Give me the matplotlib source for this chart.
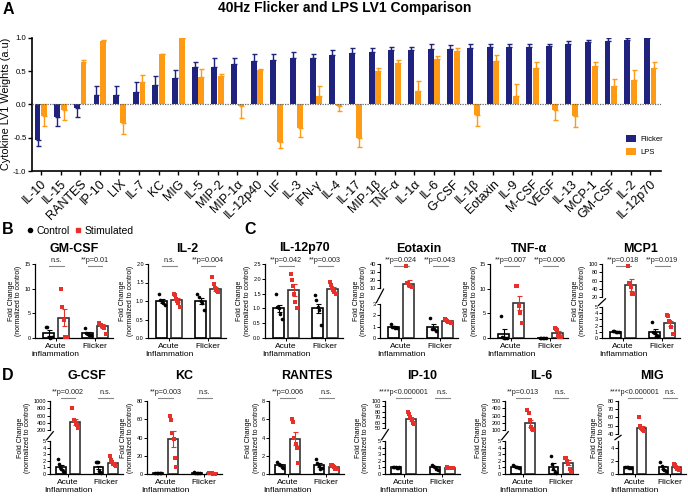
import numpy as np
import matplotlib
matplotlib.use("Agg")
import matplotlib.pyplot as plt
from matplotlib.lines import Line2D
from matplotlib.ticker import NullLocator
import matplotlib.transforms as mtransforms

plt.rcParams['font.family'] = ['Liberation Sans', 'DejaVu Sans']

# ---------------- Panel A data ----------------
cytokines = ["IL-10", "IL-15", "RANTES", "IP-10", "LIX", "IL-7", "KC", "MIG", "IL-5",
             "MIP-2", "MIP-1α", "IL-12p40", "LIF", "IL-3", "IFN-γ", "IL-4", "IL-17",
             "MIP-1β", "TNF-α", "IL-1α", "IL-6", "G-CSF", "IL-1β", "Eotaxin", "IL-9",
             "M-CSF", "VEGF", "IL-13", "MCP-1", "GM-CSF", "IL-2", "IL-12p70"]
flicker_w = [-0.53, -0.19, -0.05, 0.14, 0.14, 0.18, 0.29, 0.39, 0.56, 0.56, 0.61, 0.65,
             0.66, 0.70, 0.70, 0.74, 0.77, 0.78, 0.81, 0.81, 0.83, 0.83, 0.84, 0.86,
             0.86, 0.86, 0.87, 0.90, 0.93, 0.95, 0.97, 1.00]
flicker_err = [0.10, 0.13, 0.14, 0.14, 0.13, 0.15, 0.13, 0.13, 0.07, 0.14, 0.08, 0.10,
               0.10, 0.08, 0.06, 0.08, 0.07, 0.07, 0.05, 0.05, 0.07, 0.06, 0.07, 0.05,
               0.05, 0.05, 0.04, 0.05, 0.04, 0.04, 0.03, 0.01]
lps_w = [-0.18, -0.09, 0.63, 0.95, -0.28, 0.33, 0.75, 1.00, 0.41, 0.43, -0.03, 0.52,
         -0.57, -0.35, 0.12, -0.02, -0.51, 0.50, 0.62, 0.20, 0.68, 0.80, -0.16, 0.65,
         0.13, 0.55, -0.09, -0.17, 0.58, 0.27, 0.37, 0.54]
lps_err = [0.14, 0.14, 0.03, 0.02, 0.17, 0.11, 0.01, 0.00, 0.12, 0.03, 0.18, 0.01,
           0.08, 0.14, 0.16, 0.08, 0.13, 0.05, 0.05, 0.15, 0.04, 0.05, 0.17, 0.09,
           0.18, 0.09, 0.14, 0.17, 0.05, 0.11, 0.15, 0.09]

# ---------------- Panels B-D data ----------------
# order of groups: acute control, acute stimulated, flicker control, flicker stimulated
gmcsf_mean = [1.0, 4.1, 1.0, 2.4]
gmcsf_sem = [0.55, 1.7, 0.3, 0.35]
gmcsf_pts = [[2.2, 2.2, 0.2, 0.1, 0.3], [10.0, 6.2, 3.6, 0.2, 0.3],
             [2.0, 1.0, 0.8, 0.6, 0.7], [3.0, 2.6, 2.4, 2.2, 2.0, 0.8]]
gmcsf_p = ["n.s.", "**p=0.01"]

il2_mean = [1.0, 1.02, 1.0, 1.33]
il2_sem = [0.05, 0.05, 0.07, 0.05]
il2_pts = [[1.2, 1.02, 1.0, 0.95, 0.9], [1.2, 1.15, 1.05, 1.0, 0.95, 0.85],
           [1.2, 1.1, 1.0, 0.95, 0.75], [1.65, 1.45, 1.35, 1.3, 1.28, 1.25]]
il2_p = ["n.s.", "**p=0.004"]

il12_mean = [1.0, 1.62, 1.0, 1.65]
il12_sem = [0.12, 0.2, 0.15, 0.07]
il12_pts = [[1.5, 1.05, 1.0, 0.8, 0.65], [2.15, 1.95, 1.75, 1.5, 1.2, 1.0],
            [1.45, 1.3, 1.05, 0.95, 0.45], [1.9, 1.8, 1.7, 1.62, 1.55, 1.5]]
il12_p = ["**p=0.042", "**p=0.003"]

eot_mean = [1.0, 15.0, 1.0, 1.5]
eot_sem = [0.08, 4.5, 0.25, 0.07]
eot_pts = [[1.2, 1.0, 0.95, 0.9, 0.85], [37, 16, 14, 11.5, 10.5],
           [1.8, 0.8, 0.75, 0.6], [1.7, 1.6, 1.5, 1.45, 1.4, 1.35]]
eot_p = ["**p=0.024", "**p=0.043"]

tnf_mean = [0.9, 7.1, 0.05, 1.1]
tnf_sem = [0.9, 1.5, 0.03, 0.35]
tnf_pts = [[4.5, 0.2, 0.1, 0.0, 0.0], [10.5, 10.5, 6.5, 5.0, 3.0],
           [0.1, 0.05, 0.0, 0.0, 0.05], [2.0, 1.8, 1.6, 0.5, 0.3, 0.2]]
tnf_p = ["**p=0.007", "**p=0.006"]

mcp1_mean = [1.0, 50.0, 1.0, 2.4]
mcp1_sem = [0.05, 15.0, 0.4, 0.4]
mcp1_pts = [[1.1, 1.05, 1.0, 0.95, 0.9], [95, 55, 45, 27, 27],
            [2.5, 1.0, 0.8, 0.4, 0.3], [3.7, 3.6, 2.8, 2.5, 1.8, 0.6]]
mcp1_p = ["**p=0.018", "**p=0.019"]

gcsf_mean = [1.1, 420, 1.0, 1.6]
gcsf_sem = [0.3, 75, 0.28, 0.22]
gcsf_pts = [[2.3, 1.5, 1.0, 0.8, 0.5, 0.3], [820, 470, 450, 400, 330, 260],
            [1.8, 1.8, 1.8, 0.5, 0.3, 0.2], [2.7, 2.2, 1.8, 1.5, 1.3, 1.2]]
gcsf_p = ["**p=0.002", "n.s."]

kc_mean = [1.0, 38.5, 1.2, 0.6]
kc_sem = [0.1, 9.0, 0.2, 0.08]
kc_pts = [[1.2, 1.0, 1.0, 0.9, 0.8], [64, 59, 45, 38, 17, 8],
          [1.8, 1.5, 1.0, 0.9, 0.8], [0.8, 0.7, 0.6, 0.55, 0.5, 0.45]]
kc_p = ["**p=0.003", "n.s."]

rantes_mean = [1.0, 3.85, 1.0, 0.78]
rantes_sem = [0.1, 0.7, 0.25, 0.08]
rantes_pts = [[1.3, 1.1, 1.0, 0.8, 0.7], [6.0, 5.7, 4.0, 3.3, 2.8, 1.2],
              [1.6, 1.2, 0.9, 0.6, 0.7], [1.0, 0.95, 0.85, 0.75, 0.6, 0.55]]
rantes_p = ["**p=0.006", "n.s."]

ip10_mean = [1.0, 66.0, 1.0, 0.9]
ip10_sem = [0.04, 3.0, 0.15, 0.03]
ip10_pts = [[1.1, 1.05, 1.0, 0.95, 0.9, 1.0], [80, 76, 70, 66, 60, 58],
            [1.4, 1.2, 1.0, 0.8, 0.6], [1.0, 0.95, 0.9, 0.88, 0.85, 0.9]]
ip10_p = ["****p<0.000001", "n.s."]

il6_mean = [1.1, 195, 1.1, 1.7]
il6_sem = [0.08, 48, 0.5, 0.4]
il6_pts = [[1.3, 1.2, 1.1, 1.0, 0.9], [380, 330, 240, 150, 110, 105],
           [2.8, 1.5, 0.8, 0.3, 0.2], [2.5, 2.5, 2.0, 1.5, 0.8, 0.3]]
il6_p = ["**p=0.013", "n.s."]

mig_mean = [1.0, 47.0, 1.0, 1.0]
mig_sem = [0.05, 2.5, 0.25, 0.15]
mig_pts = [[1.05, 1.0, 1.0, 0.95, 0.9], [61, 50, 47, 46, 45, 44],
           [1.8, 1.2, 0.8, 0.6, 0.5], [1.5, 1.3, 1.0, 0.8, 0.7, 0.6]]
mig_p = ["****p<0.000001", "n.s."]

group_labels = ["Acute\nInflammation", "Flicker"]

# ---------------- styling ----------------
NAVY = '#1f237d'
ORANGE = '#ff9a14'
RED = '#e8302a'
W, H = 688, 496
fig = plt.figure(figsize=(6.88, 4.96), dpi=100)


def box(x0, y0, x1, y1):
    return [x0 / W, 1 - y1 / H, (x1 - x0) / W, (y1 - y0) / H]


# ---------------- Panel A ----------------
A_L, A_R = 32, 661
axA = fig.add_axes(box(A_L, 37.7, A_R, 171))
xA = np.arange(len(cytokines))
bw, off = 0.3, 0.17


def onesided(vals, errs):
    lo = [e if v < 0 else 0 for v, e in zip(vals, errs)]
    hi = [e if v >= 0 else 0 for v, e in zip(vals, errs)]
    return [lo, hi]


axA.bar(xA - off, flicker_w, bw, color=NAVY, label='Flicker', zorder=2,
        yerr=onesided(flicker_w, flicker_err),
        error_kw=dict(ecolor=NAVY, elinewidth=1.0, capsize=1.8, capthick=1.0))
axA.bar(xA + off, lps_w, bw, color=ORANGE, label='LPS', zorder=2,
        yerr=onesided(lps_w, lps_err),
        error_kw=dict(ecolor=ORANGE, elinewidth=1.0, capsize=1.8, capthick=1.0))
axA.axhline(0, color='#666666', lw=0.9, ls=(0, (1, 1)), zorder=3)
axA.set_xlim(-0.45, len(cytokines) - 0.45)
axA.set_ylim(-1, 1)
axA.set_yticks([-1, -0.5, 0, 0.5, 1.0])
axA.set_yticklabels(['-1.0', '-0.5', '0.0', '0.5', '1.0'])
axA.set_xticks(xA)
axA.set_xticklabels(cytokines, rotation=45, ha='right', rotation_mode='anchor', fontsize=9)
axA.tick_params(axis='y', labelsize=5.6, length=3, width=1, pad=1.0)
axA.tick_params(axis='x', length=3, width=1, pad=2)
for s in ['top', 'right']:
    axA.spines[s].set_visible(False)
for s in ['left', 'bottom']:
    axA.spines[s].set_linewidth(1.2)
axA.set_ylabel('Cytokine LV1 Weights (a.u)', fontsize=7.8)
axA.yaxis.set_label_coords(-(A_L - 11.5) / (A_R - A_L), 0.5)
axA.legend(loc='center left', bbox_to_anchor=(0.945, 0.19), frameon=False, fontsize=5.5,
           handlelength=1.3, handleheight=1.0, labelspacing=0.7, borderpad=0,
           borderaxespad=0, handletextpad=0.5)
fig.text(345 / W, 1 - 8 / H, '40Hz Flicker and LPS LV1 Comparison', ha='center',
         va='center', fontsize=10, fontweight='bold')

# panel letters
for letter, (px, py) in {'A': (8, 10), 'B': (8, 230), 'C': (250, 230), 'D': (8, 375)}.items():
    fig.text(px / W, 1 - py / H, letter, ha='center', va='center', fontsize=11.5,
             fontweight='bold')

# legend for B-D
fig.legend(handles=[Line2D([], [], marker='o', color='black', ls='none', ms=3),
                    Line2D([], [], marker='s', color=RED, ls='none', ms=3)],
           labels=['Control', 'Stimulated'], loc='center left',
           bbox_to_anchor=(27 / W, 1 - 231 / H), ncol=2, frameon=False, fontsize=7.5,
           handlelength=0.6, handletextpad=0.3, columnspacing=0.5, borderpad=0,
           borderaxespad=0)

POS = [0, 1, 2.6, 3.6]


def make_scale(vals, fracs):
    v = np.asarray(vals, float)
    f = np.asarray(fracs, float)
    s0 = (f[1] - f[0]) / (v[1] - v[0])
    s1 = (f[-1] - f[-2]) / (v[-1] - v[-2])
    big = 1e7
    ve = np.concatenate([[v[0] - big], v, [v[-1] + big]])
    fe = np.concatenate([[f[0] - big * s0], f, [f[-1] + big * s1]])

    def fwd(y):
        return np.interp(np.asarray(y, float), ve, fe)

    def inv(t):
        return np.interp(np.asarray(t, float), fe, ve)
    return fwd, inv


def small_panel(px_box, title, means, sems, pts, pvals, yticks, ytlabels, top,
                brk=None, row='B', acute_label="Acute\nInflammation", xlo=-0.9):
    ax = fig.add_axes(box(*px_box))
    if brk is not None:
        fwd, inv = make_scale(brk[0], brk[1])
        ax.set_yscale('function', functions=(fwd, inv))
    ax.set_ylim(0, top)
    ax.set_xlim(xlo, 4.3)
    edge = ['black', '#333333', 'black', '#333333']
    ax.bar(POS, means, width=0.68, facecolor='white', edgecolor=edge, linewidth=1.2,
           zorder=2)
    for i in range(4):
        col = 'black' if i % 2 == 0 else RED
        mk = 'o' if i % 2 == 0 else 's'
        n = len(pts[i])
        offs = np.linspace(-0.2, 0.2, n)
        ax.plot(POS[i] + offs, pts[i], ls='none', marker=mk, color=col, ms=2.6,
                mew=0, zorder=4, clip_on=False)
        ax.errorbar(POS[i], means[i], yerr=sems[i], color=col, lw=0.8, capsize=1.8,
                    capthick=0.8, zorder=5)
    ax.set_yticks(yticks)
    ax.set_yticklabels(ytlabels)
    ax.yaxis.set_minor_locator(NullLocator())
    ax.set_xticks([0.5, 3.1])
    ax.set_xticklabels([acute_label, group_labels[1]], fontsize=6, linespacing=1.15)
    ax.tick_params(axis='y', labelsize=4, length=2, width=0.7, pad=1)
    ax.tick_params(axis='x', length=2, width=0.7, pad=1.5)
    for s in ['top', 'right']:
        ax.spines[s].set_visible(False)
    ax.spines['bottom'].set_linewidth(0.9)
    ax.spines['left'].set_linewidth(0.9)
    if brk is not None:
        ax.spines['left'].set_visible(False)
        f1, f2 = brk[1][1], brk[1][2]
        ax.plot([0, 0], [0, f1], transform=ax.transAxes, color='black', lw=0.9,
                clip_on=False)
        ax.plot([0, 0], [f2, 1], transform=ax.transAxes, color='black', lw=0.9,
                clip_on=False)
        ax.plot([-0.045, 0.045], [f1 + 0.02, f2 - 0.02], transform=ax.transAxes,
                color='black', lw=0.9, clip_on=False)
    ax.set_ylabel('Fold Change\n(normalized to control)', fontsize=5, labelpad=1.5,
                  linespacing=1.1)
    ax.set_title(title, fontsize=9, fontweight='bold', pad=9 if row == 'B' else 16)
    trans = mtransforms.blended_transform_factory(ax.transData, ax.transAxes)
    ty, ly = (1.05, 0.975) if row == 'B' else (1.12, 1.04)
    for k, (a, b) in enumerate([(POS[0], POS[1]), (POS[2], POS[3])]):
        ax.plot([a, b], [ly, ly], transform=trans, color='#888888', lw=0.8,
                clip_on=False)
        ax.text((a + b) / 2, ty, pvals[k], transform=trans, ha='center', va='center',
                fontsize=5.2, color='#222222')
    return ax


TB, BB = 264, 338
TD, BD = 401, 474

small_panel((35, TB, 113, BB), 'GM-CSF', gmcsf_mean, gmcsf_sem, gmcsf_pts, gmcsf_p,
            [0, 5, 10, 15], ['0', '5', '10', '15'], 15, acute_label="Acute\ninflammation")
small_panel((148, TB, 226, BB), 'IL-2', il2_mean, il2_sem, il2_pts, il2_p,
            [0, 0.5, 1.0, 1.5, 2.0], ['0.0', '0.5', '1.0', '1.5', '2.0'], 2.0)
small_panel((265, TB, 343, BB), 'IL-12p70', il12_mean, il12_sem, il12_pts, il12_p,
            [0, 0.5, 1.0, 1.5, 2.0, 2.5], ['0.0', '0.5', '1.0', '1.5', '2.0', '2.5'], 2.5)
small_panel((380, TB, 458, BB), 'Eotaxin', eot_mean, eot_sem, eot_pts, eot_p,
            [0, 1, 2, 3, 10, 20, 30, 40], ['0', '1', '2', '3', '10', '20', '30', '40'], 40,
            brk=([0, 3, 10, 40], [0, 0.46, 0.68, 1.0]))
small_panel((490, TB, 568, BB), 'TNF-α', tnf_mean, tnf_sem, tnf_pts, tnf_p,
            [0, 5, 10, 15], ['0', '5', '10', '15'], 15)
small_panel((602, TB, 680, BB), 'MCP1', mcp1_mean, mcp1_sem, mcp1_pts, mcp1_p,
            [0, 1, 2, 3, 4, 5, 20, 40, 60, 80, 100],
            ['0', '1', '2', '3', '4', '5', '20', '40', '60', '80', '100'], 100,
            brk=([0, 5, 20, 100], [0, 0.42, 0.55, 1.0]))

small_panel((50, TD, 123, BD), 'G-CSF', gcsf_mean, gcsf_sem, gcsf_pts, gcsf_p,
            [0, 1, 2, 3, 4, 5, 200, 400, 600, 800, 1000],
            ['0', '1', '2', '3', '4', '5', '200', '400', '600', '800', '1000'], 1000,
            brk=([0, 5, 200, 1000], [0, 0.45, 0.6, 1.0]), row='D', xlo=-0.75)
small_panel((147, TD, 222, BD), 'KC', kc_mean, kc_sem, kc_pts, kc_p,
            [0, 20, 40, 60, 80], ['0', '20', '40', '60', '80'], 80, row='D', xlo=-0.75)
small_panel((269, TD, 344, BD), 'RANTES', rantes_mean, rantes_sem, rantes_pts, rantes_p,
            [0, 2, 4, 6, 8], ['0', '2', '4', '6', '8'], 8, row='D', xlo=-0.75)
small_panel((385, TD, 460, BD), 'IP-10', ip10_mean, ip10_sem, ip10_pts, ip10_p,
            [0, 1, 2, 3, 4, 5, 50, 60, 70, 80, 90, 100],
            ['0', '1', '2', '3', '4', '5', '50', '60', '70', '80', '90', '100'], 100,
            brk=([0, 5, 50, 100], [0, 0.45, 0.63, 1.0]), row='D', xlo=-0.75)
small_panel((505, TD, 578, BD), 'IL-6', il6_mean, il6_sem, il6_pts, il6_p,
            [0, 1, 2, 3, 4, 5, 100, 200, 300, 400, 500],
            ['0', '1', '2', '3', '4', '5', '100', '200', '300', '400', '500'], 500,
            brk=([0, 5, 100, 500], [0, 0.45, 0.6, 1.0]), row='D', xlo=-0.75)
small_panel((618, TD, 686, BD), 'MIG', mig_mean, mig_sem, mig_pts, mig_p,
            [0, 2, 4, 40, 50, 60, 70, 80], ['0', '2', '4', '40', '50', '60', '70', '80'], 80,
            brk=([0, 5, 40, 80], [0, 0.45, 0.55, 1.0]), row='D', xlo=-0.75)

fig.savefig('out.png', dpi=100)
